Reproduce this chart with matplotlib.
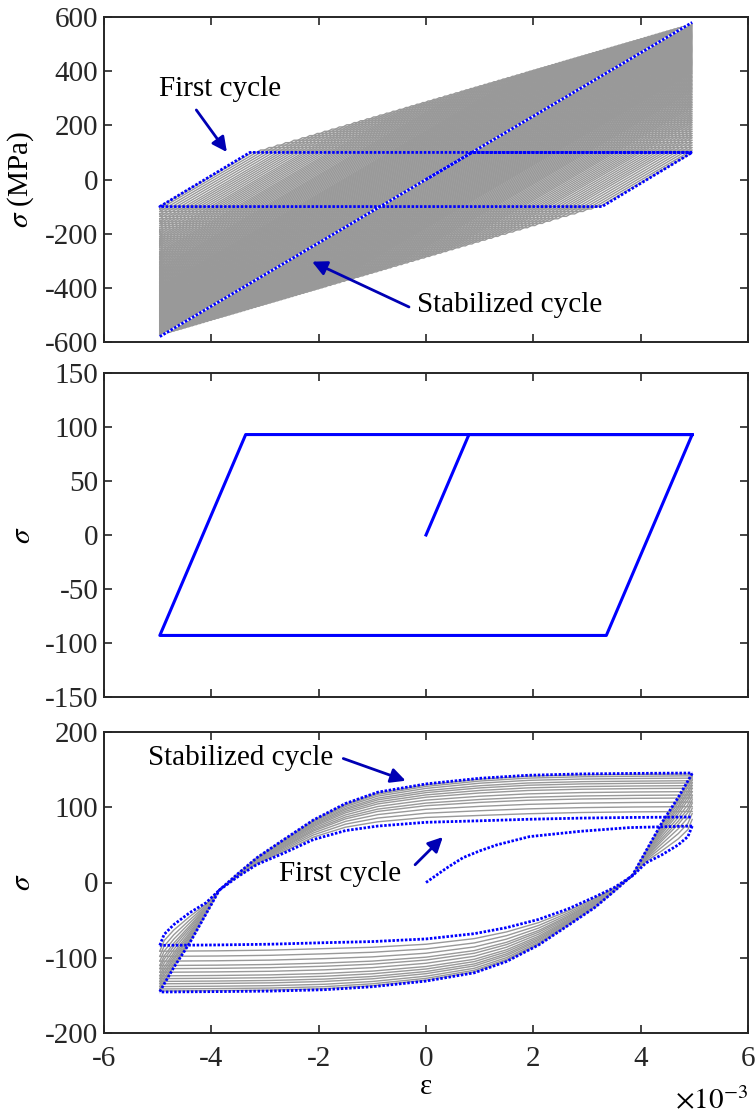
import numpy as np
import matplotlib.pyplot as plt

plt.rcParams['font.family'] = ['Liberation Serif', 'DejaVu Serif']
plt.rcParams['mathtext.fontset'] = 'stix'
plt.rcParams['axes.unicode_minus'] = False
plt.rcParams['font.size'] = 21

# strain in units of 1e-3, stress in MPa
AMP = 4.96
E_MOD = 116.0  # MPa per 1e-3 strain

# ---- top panel ----
top_first_eps = [0.0, 0.86, 4.96, 3.28, -4.96, -3.28, 4.96]
top_first_sig = [0, 100, 100, -100, -100, 100, 100]
top_stab_eps = [-4.96, 4.96]
top_stab_sig = [-580, 580]
# yield stress of each intermediate cycle (read from the gray fan)
top_yield = [100, 109, 118, 127, 136, 145, 154, 162, 170, 178, 186, 194, 202,
             210, 217, 224, 231, 238, 245, 252, 259, 266, 272, 278, 284, 290,
             296, 302, 308, 314, 320, 326, 331, 336, 341, 346, 351, 356, 361,
             366, 371, 376, 381, 386, 391, 396, 400, 404, 408, 412, 416, 420,
             424, 428, 432, 436, 440, 444, 448, 452, 456, 460, 464, 468, 472,
             476, 480, 484, 488, 492, 496, 500, 504, 508, 512, 516, 520, 524,
             528, 532, 536, 540, 544, 548, 552, 556, 560, 564, 568, 572, 575]

# ---- middle panel ----
mid_eps = [0.0, 0.8, 4.96, 3.36, -4.96, -3.36, 4.96]
mid_sig = [0, 93, 93, -93, -93, 93, 93]

# ---- bottom panel ----
bot_init_eps = [0.0, 0.38, 0.69, 1.0, 1.32, 1.93, 2.87, 3.8, 4.96]
bot_init_sig = [0, 19, 33, 42, 50, 61, 68, 73, 75]
bot_eps_up = [-4.96, -4.88, -4.7, -4.4, -4.1, -3.85, -3.5, -3.15, -2.65, -2.1,
              -1.5, -0.9, 0.0, 1.0, 1.9, 2.9, 3.9, 4.96]
bot_stab_up = [-145, -135, -113, -80, -42, -10, 12, 33, 57, 83, 105, 120, 131,
               138.5, 142.5, 144.3, 145, 145.5]
bot_first_up = [-83.5, -69, -56, -40, -27, -10, 8, 24, 39, 57, 69, 75, 80, 82,
                84, 85.6, 86.5, 87]
bot_eps_low = [4.96, 4.88, 4.7, 4.4, 4.1, 3.85, 3.5, 3.15, 2.65, 2.1, 1.5, 0.9,
               0.0, -1.0, -1.9, -2.9, -3.9, -4.96]
bot_stab_low = [145, 135, 113, 80, 42, 10, -12, -33, -57, -83, -105, -120, -131,
                -138.5, -142.5, -144.3, -145, -145.5]
bot_first_low = [75, 61, 50, 37, 26, 9, -7, -19, -35, -49, -60, -68, -75, -78.5,
                 -80, -82, -83, -83.5]
# peak stress of the intermediate (gray) loops at eps = 2.9e-3
bot_gray_peak = [93, 99.5, 105.5, 111, 115, 119.5, 124, 127.5, 131, 134, 137.5,
                 140.5, 143]

BLUE = '#0000ff'
ARROW = '#0000b4'
GRAY = '#999999'
DOT = dict(color=BLUE, lw=2.0, linestyle=(0, (0.9, 0.6)), dash_capstyle='butt')

W, H = 755, 1115
fig = plt.figure(figsize=(W / 100, H / 100), dpi=100)
L, R = 104, 748


def make_ax(top_px, bot_px):
    return fig.add_axes([L / W, 1 - bot_px / H, (R - L) / W, (bot_px - top_px) / H])


ax1 = make_ax(17, 342)
ax2 = make_ax(373, 697)
ax3 = make_ax(732, 1033)

# top: gray cycles
for s in top_yield:
    k = 2 * s / E_MOD
    ax1.plot([-AMP, -AMP + k, AMP, AMP - k, -AMP], [-s, s, s, -s, -s],
             color=GRAY, lw=1.0, zorder=1)
ax1.plot(top_stab_eps, top_stab_sig, color='white', lw=1.4, zorder=2)
ax1.plot(top_stab_eps, top_stab_sig, zorder=3, **DOT)
ax1.plot(top_first_eps, top_first_sig, zorder=3, **DOT)
ax1.set_ylim(-600, 600)
ax1.set_yticks(np.arange(-600, 601, 200))
ax1.set_ylabel(r'$\sigma$ (MPa)')
ax1.text(-3.84, 307, 'First cycle', ha='center', va='baseline')
ax1.annotate('', xy=(-3.68, 93), xytext=(-4.31, 265),
             arrowprops=dict(arrowstyle='-|>', color=ARROW, lw=2, mutation_scale=22))
ax1.text(1.56, -489, 'Stabilized cycle', ha='center', va='baseline')
ax1.annotate('', xy=(-2.17, -299), xytext=(-0.27, -475),
             arrowprops=dict(arrowstyle='-|>', color=ARROW, lw=2, mutation_scale=22))

# middle
ax2.plot(mid_eps, mid_sig, color=BLUE, lw=2.2)
ax2.set_ylim(-150, 150)
ax2.set_yticks(np.arange(-150, 151, 50))
ax2.set_ylabel(r'$\sigma$')

# bottom: gray loops between first and stabilized cycles
fu, su = np.array(bot_first_up), np.array(bot_stab_up)
fl, sl = np.array(bot_first_low), np.array(bot_stab_low)
for p in bot_gray_peak:
    w = (p - fu[15]) / (su[15] - fu[15])
    ax3.plot(bot_eps_up, (1 - w) * fu + w * su, color=GRAY, lw=1.0, zorder=1)
    ax3.plot(bot_eps_low, (1 - w) * fl + w * sl, color=GRAY, lw=1.0, zorder=1)
ax3.plot(bot_eps_up, bot_stab_up, zorder=3, **DOT)
ax3.plot(bot_eps_low, bot_stab_low, zorder=3, **DOT)
ax3.plot(bot_init_eps, bot_init_sig, zorder=3, **DOT)
ax3.plot(bot_eps_low, bot_first_low, zorder=3, **DOT)
ax3.plot(bot_eps_up, bot_first_up, zorder=3, **DOT)
ax3.set_ylim(-200, 200)
ax3.set_yticks(np.arange(-200, 201, 100))
ax3.set_ylabel(r'$\sigma$')
ax3.set_xlabel('ε', labelpad=2)
ax3.text(-3.46, 156, 'Stabilized cycle', ha='center', va='baseline')
ax3.annotate('', xy=(-0.33, 134), xytext=(-1.59, 166),
             arrowprops=dict(arrowstyle='-|>', color=ARROW, lw=2, mutation_scale=22))
ax3.text(-1.6, 2, 'First cycle', ha='center', va='baseline')
ax3.annotate('', xy=(0.35, 63), xytext=(-0.24, 21),
             arrowprops=dict(arrowstyle='-|>', color=ARROW, lw=2, mutation_scale=22))
ax3.text(1.0, -0.255, r'$\times10^{-3}$', transform=ax3.transAxes,
         ha='right', va='baseline')

for ax in (ax1, ax2, ax3):
    ax.set_xlim(-6, 6)
    ax.set_xticks(np.arange(-6, 7, 2))
    ax.tick_params(direction='in', top=True, right=True, length=6, width=1.2,
                   colors='#262626', labelcolor='#262626')
    ax.tick_params(axis='y', pad=4)
    ax.tick_params(axis='x', pad=9)
    for sp in ax.spines.values():
        sp.set_linewidth(1.4)
        sp.set_color('#262626')
    ax.yaxis.set_label_coords(-0.105, 0.5)
for ax in (ax1, ax2):
    ax.tick_params(labelbottom=False)

fig.savefig('out.png', dpi=100)
